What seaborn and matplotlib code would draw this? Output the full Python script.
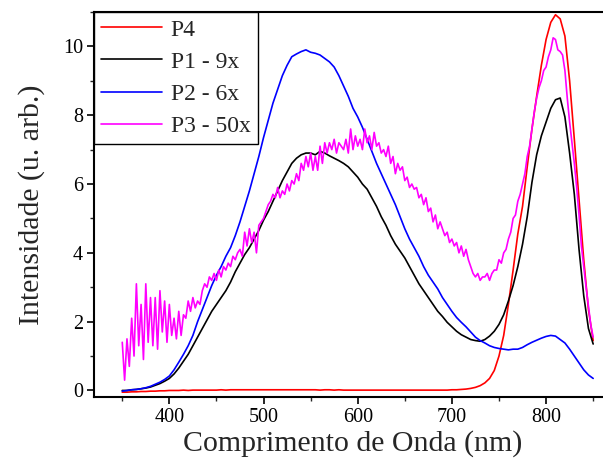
import numpy as np
import pandas as pd
import matplotlib
matplotlib.use("Agg")
import matplotlib.pyplot as plt
from matplotlib.ticker import MultipleLocator
import seaborn as sns

# ---------------- data ----------------
wl_5 = np.arange(350, 851, 5)          # 5 nm grid for smoother spectra
wl_25 = np.arange(350, 850.01, 2.5)    # 2.5 nm grid for the noisy P3 spectrum

p4 = [-0.05, -0.05, -0.04, -0.04, -0.03, -0.03, -0.02, -0.02, -0.01, -0.01,
      0.0, 0.0, 0.0, 0.01, 0.0, 0.01, 0.01, 0.01, 0.01, 0.01,
      0.01, 0.02, 0.01, 0.02, 0.02, 0.02, 0.02, 0.02, 0.02, 0.02,
      0.02, 0.02, 0.02, 0.02, 0.02, 0.02, 0.02, 0.02, 0.02, 0.02,
      0.02, 0.02, 0.01, 0.02, 0.02, 0.01, 0.02, 0.01, 0.01, 0.01,
      0.01, 0.01, 0.01, 0.01, 0.01, 0.01, 0.01, 0.01, 0.01, 0.01,
      0.01, 0.01, 0.01, 0.01, 0.01, 0.01, 0.01, 0.01, 0.01, 0.01,
      0.02, 0.02, 0.03, 0.04, 0.06, 0.09, 0.14, 0.22, 0.35, 0.58,
      1.0, 1.6, 2.5, 3.5, 4.55, 5.35, 6.5, 7.6, 8.55, 9.45,
      10.2, 10.7, 10.92, 10.8, 10.3, 9.0, 7.3, 5.55, 3.8, 2.35,
      1.45]

p1 = [0.0, 0.0, 0.02, 0.03, 0.05, 0.07, 0.1, 0.15, 0.2, 0.27,
      0.35, 0.48, 0.65, 0.85, 1.05, 1.3, 1.55, 1.8, 2.05, 2.3,
      2.5, 2.7, 2.9, 3.15, 3.45, 3.7, 3.95, 4.15, 4.4, 4.65,
      4.95, 5.2, 5.5, 5.8, 6.1, 6.35, 6.6, 6.75, 6.85, 6.9,
      6.9, 6.85, 6.95, 6.9, 6.82, 6.75, 6.68, 6.6, 6.5, 6.35,
      6.2, 6.0, 5.85, 5.6, 5.35, 5.05, 4.8, 4.5, 4.25, 4.05,
      3.85, 3.6, 3.35, 3.1, 2.9, 2.7, 2.5, 2.3, 2.15, 1.98,
      1.85, 1.72, 1.62, 1.55, 1.48, 1.45, 1.43, 1.48, 1.58, 1.72,
      1.92, 2.2, 2.6, 3.05, 3.6, 4.25, 5.05, 6.05, 6.85, 7.4,
      7.8, 8.2, 8.45, 8.5, 7.95, 6.9, 5.7, 4.1, 2.75, 1.8,
      1.35]

p2 = [-0.02, 0.0, 0.02, 0.03, 0.05, 0.08, 0.12, 0.18, 0.24, 0.32,
      0.42, 0.6, 0.82, 1.05, 1.3, 1.6, 2.0, 2.35, 2.7, 3.05,
      3.35, 3.6, 3.9, 4.15, 4.5, 4.9, 5.35, 5.8, 6.3, 6.8,
      7.35, 7.85, 8.35, 8.75, 9.15, 9.45, 9.7, 9.78, 9.85, 9.9,
      9.83, 9.8, 9.75, 9.65, 9.55, 9.4, 9.15, 8.85, 8.55, 8.2,
      7.95, 7.65, 7.3, 6.95, 6.6, 6.3, 6.0, 5.7, 5.4, 5.05,
      4.7, 4.4, 4.15, 3.9, 3.6, 3.35, 3.15, 2.95, 2.7, 2.5,
      2.3, 2.12, 1.98, 1.85, 1.7, 1.55, 1.45, 1.38, 1.3, 1.25,
      1.22, 1.2, 1.18, 1.2, 1.2, 1.25, 1.33, 1.4, 1.46, 1.52,
      1.57, 1.6, 1.58, 1.48, 1.38, 1.2, 1.0, 0.8, 0.6, 0.45,
      0.35]

p3 = [1.4, 0.3, 1.5, 0.7, 2.1, 1.0, 3.1, 1.3, 2.5, 0.9,
      3.1, 1.4, 2.7, 1.3, 2.7, 1.2, 2.9, 1.7, 2.6, 1.4,
      2.5, 1.6, 2.1, 1.5, 2.3, 1.6, 2.2, 2.1, 2.6, 2.3,
      2.7, 2.4, 2.6, 2.5, 2.9, 3.1, 3.0, 3.3, 3.2, 3.4,
      3.2, 3.5, 3.3, 3.6, 3.5, 3.7, 3.6, 3.9, 3.8, 4.0,
      4.1, 3.9, 4.6, 4.2, 4.7, 4.3, 4.6, 4.0, 4.8, 4.9,
      5.0, 5.2, 5.4, 5.5, 5.7, 5.6, 5.9, 5.6, 5.8, 5.7,
      6.0, 5.8, 6.1, 6.0, 6.3, 6.1, 6.6, 6.4, 6.8, 6.5,
      6.9, 6.4, 6.8, 6.4, 7.1, 6.6, 7.2, 6.9, 7.2, 7.0,
      7.3, 6.9, 7.2, 7.1, 7.0, 7.3, 6.9, 7.6, 7.0, 7.4,
      7.1, 7.3, 7.0, 7.6, 7.2, 7.4, 7.0, 7.5, 7.1, 7.2,
      6.9, 7.0, 6.8, 7.1, 6.6, 6.8, 6.3, 6.6, 6.4, 6.5,
      6.1, 6.2, 5.9, 6.0, 5.85, 5.9, 5.6, 5.7, 5.4, 5.6,
      5.2, 5.3, 4.9, 5.1, 4.7, 4.9, 4.7, 4.5, 4.6, 4.3,
      4.4, 4.2, 4.3, 4.0, 4.2, 3.9, 4.1, 3.8, 3.6, 3.4,
      3.3, 3.4, 3.2, 3.3, 3.3, 3.4, 3.2, 3.4, 3.5, 3.5,
      3.8, 3.7, 4.0, 4.1, 4.4, 4.6, 5.0, 5.1, 5.5, 5.7,
      6.0, 6.3, 6.8, 7.1, 7.6, 8.1, 8.5, 8.8, 9.0, 9.3,
      9.4, 9.7, 9.9, 10.25, 10.2, 9.9, 9.85, 9.75, 9.3, 8.5,
      7.8, 7.2, 6.6, 5.9, 5.1, 4.2, 3.6, 3.0, 2.45, 1.9,
      1.55]

labels = ["P4", "P1 - 9x", "P2 - 6x", "P3 - 50x"]
colors = ["#ff0000", "#000000", "#0000ff", "#ff00ff"]

# ---------------- styling ----------------
sns.set_style("ticks")
plt.rcParams["font.family"] = ["Liberation Serif", "DejaVu Serif"]

fig = plt.figure(figsize=(6.03, 4.63), dpi=100)
ax = fig.add_axes([94 / 603, 66 / 463, 518 / 603, 385 / 463])

series = [(wl_5, p4), (wl_5, p1), (wl_5, p2), (wl_25, p3)]
for (x, y), lab, col in zip(series, labels, colors):
    df = pd.DataFrame({"wl": x, "I": y})
    sns.lineplot(data=df, x="wl", y="I", ax=ax, color=col, lw=1.2,
                 label=lab, estimator=None, sort=False)

ax.set_xlim(320, 870)
ax.set_ylim(-0.19, 11.0)
ax.xaxis.set_major_locator(MultipleLocator(100))
ax.xaxis.set_minor_locator(MultipleLocator(50))
ax.yaxis.set_major_locator(MultipleLocator(2))
ax.yaxis.set_minor_locator(MultipleLocator(1))
ax.tick_params(which="major", direction="out", length=5, width=1.2,
               labelsize=14.5, colors="black", pad=3)
ax.tick_params(which="minor", direction="out", length=3, width=1.0)
for s in ax.spines.values():
    s.set_linewidth(1.5)
    s.set_color("black")

ax.set_xlabel("Comprimento de Onda (nm)", fontsize=21.5, labelpad=2)
ax.set_ylabel("Intensidade (u. arb.)", fontsize=21.5, labelpad=13)

leg = ax.legend(loc="upper left", bbox_to_anchor=(0, 1), borderaxespad=0,
                fontsize=17, frameon=True, fancybox=False, handlelength=2.6,
                handletextpad=0.35, labelspacing=0.45, borderpad=0.3)
leg.get_frame().set_edgecolor("black")
leg.get_frame().set_linewidth(1.0)
leg.get_frame().set_alpha(1)
for line in leg.get_lines():
    line.set_linewidth(1.2)

fig.savefig("out.png", dpi=100)
